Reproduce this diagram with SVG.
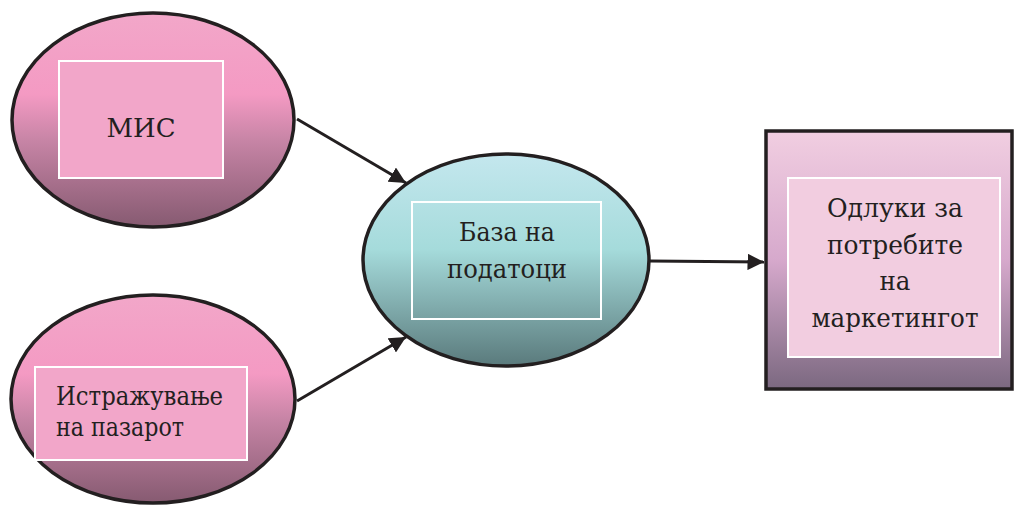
<svg xmlns="http://www.w3.org/2000/svg" width="1014" height="505" viewBox="0 0 1014 505">
<style>
.edge{stroke:#231f20;stroke-width:3;fill:none}
.outline{stroke:#231f20;stroke-width:3.5}
.inner{stroke:#ffffff;stroke-width:2}
.t{font-family:'DejaVu Serif','Liberation Serif',serif;font-size:26.5px;fill:#231f20}
</style>
<defs>
<linearGradient id="gPink" x1="0" y1="0" x2="0" y2="1">
<stop offset="0" stop-color="#f2a7c9"/>
<stop offset="0.38" stop-color="#f49ac3"/>
<stop offset="0.6" stop-color="#c684a5"/>
<stop offset="1" stop-color="#865a71"/>
</linearGradient>
<linearGradient id="gTeal" x1="0" y1="0" x2="0" y2="1">
<stop offset="0" stop-color="#c4e7ee"/>
<stop offset="0.45" stop-color="#a5dbdb"/>
<stop offset="1" stop-color="#5a7a7c"/>
</linearGradient>
<linearGradient id="gLilac" x1="0" y1="0" x2="0" y2="1">
<stop offset="0" stop-color="#f1cee1"/>
<stop offset="0.5" stop-color="#d6a9cc"/>
<stop offset="1" stop-color="#7b6880"/>
</linearGradient>
<marker id="arrow" viewBox="0 0 10 10" refX="10" refY="5" markerWidth="5.5" markerHeight="5.5" orient="auto" markerUnits="strokeWidth">
<path d="M0,0 L10,5 L0,10 z" fill="#231f20"/>
</marker>
</defs>
<g id="connectors">
<line class="edge" x1="297" y1="119" x2="406" y2="183" marker-end="url(#arrow)"/>
<line class="edge" x1="297" y1="401" x2="406" y2="337" marker-end="url(#arrow)"/>
<line class="edge" x1="650" y1="261" x2="764" y2="262" marker-end="url(#arrow)"/>
</g>
<g id="node-mis">
<ellipse class="outline" cx="153" cy="120" rx="141" ry="107" fill="url(#gPink)"/>
<rect class="inner" x="59" y="61" width="164" height="117" fill="#f2a6c9"/>
<text class="t" x="141" y="137" text-anchor="middle" textLength="69" lengthAdjust="spacingAndGlyphs">МИС</text>
</g>
<g id="node-research">
<ellipse class="outline" cx="153" cy="399" rx="142" ry="104" fill="url(#gPink)"/>
<rect class="inner" x="35" y="367" width="212" height="93" fill="#f2a6c9"/>
<text class="t" x="56" y="405" textLength="167" lengthAdjust="spacingAndGlyphs">Истражување</text>
<text class="t" x="56" y="436" textLength="128" lengthAdjust="spacingAndGlyphs">на пазарот</text>
</g>
<g id="node-database">
<ellipse class="outline" cx="506" cy="260" rx="143" ry="106" fill="url(#gTeal)"/>
<rect class="inner" x="412" y="202" width="189" height="117" fill="none"/>
<text class="t" x="507" y="241" text-anchor="middle" textLength="96" lengthAdjust="spacingAndGlyphs">База на</text>
<text class="t" x="507" y="278" text-anchor="middle" textLength="120" lengthAdjust="spacingAndGlyphs">податоци</text>
</g>
<g id="node-decisions">
<rect class="outline" x="766" y="131" width="246" height="258" fill="url(#gLilac)"/>
<rect class="inner" x="788" y="178" width="212" height="179" fill="#f2cde0"/>
<text class="t" x="895" y="217" text-anchor="middle" textLength="136" lengthAdjust="spacingAndGlyphs">Одлуки за</text>
<text class="t" x="895" y="254" text-anchor="middle" textLength="136" lengthAdjust="spacingAndGlyphs">потребите</text>
<text class="t" x="895" y="290" text-anchor="middle" textLength="31" lengthAdjust="spacingAndGlyphs">на</text>
<text class="t" x="895" y="327" text-anchor="middle" textLength="167" lengthAdjust="spacingAndGlyphs">маркетингот</text>
</g>
</svg>
